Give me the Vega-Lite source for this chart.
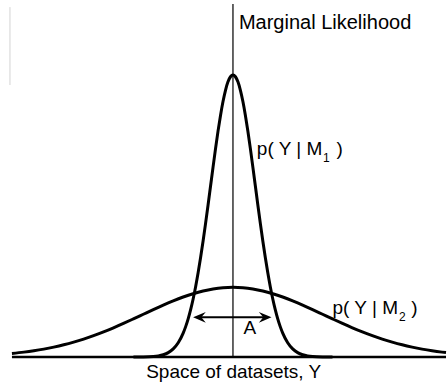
{
  "$schema": "https://vega.github.io/schema/vega-lite/v6.json",
  "width": 448,
  "height": 383,
  "padding": 0,
  "autosize": {"type": "fit", "contains": "padding"},
  "background": "white",
  "config": {"view": {"stroke": null}},
  "datasets": {
    "m1": [
      {"x": -1.0, "y": 0}, {"x": -0.9, "y": 0.0006}, {"x": -0.8, "y": 0.0032}, {"x": -0.75, "y": 0.0069},
      {"x": -0.7, "y": 0.014}, {"x": -0.65, "y": 0.0273}, {"x": -0.6, "y": 0.0507}, {"x": -0.55, "y": 0.0894},
      {"x": -0.5, "y": 0.15}, {"x": -0.475, "y": 0.191}, {"x": -0.45, "y": 0.24}, {"x": -0.425, "y": 0.298},
      {"x": -0.4, "y": 0.365}, {"x": -0.375, "y": 0.442}, {"x": -0.35, "y": 0.529}, {"x": -0.325, "y": 0.625},
      {"x": -0.3, "y": 0.729}, {"x": -0.275, "y": 0.84}, {"x": -0.25, "y": 0.956}, {"x": -0.225, "y": 1.075},
      {"x": -0.2, "y": 1.194}, {"x": -0.175, "y": 1.31}, {"x": -0.15, "y": 1.42}, {"x": -0.125, "y": 1.519},
      {"x": -0.1, "y": 1.606}, {"x": -0.075, "y": 1.677}, {"x": -0.05, "y": 1.73}, {"x": -0.025, "y": 1.762},
      {"x": 0, "y": 1.773},
      {"x": 0.025, "y": 1.762}, {"x": 0.05, "y": 1.73}, {"x": 0.075, "y": 1.677}, {"x": 0.1, "y": 1.606},
      {"x": 0.125, "y": 1.519}, {"x": 0.15, "y": 1.42}, {"x": 0.175, "y": 1.31}, {"x": 0.2, "y": 1.194},
      {"x": 0.225, "y": 1.075}, {"x": 0.25, "y": 0.956}, {"x": 0.275, "y": 0.84}, {"x": 0.3, "y": 0.729},
      {"x": 0.325, "y": 0.625}, {"x": 0.35, "y": 0.529}, {"x": 0.375, "y": 0.442}, {"x": 0.4, "y": 0.365},
      {"x": 0.425, "y": 0.298}, {"x": 0.45, "y": 0.24}, {"x": 0.475, "y": 0.191}, {"x": 0.5, "y": 0.15},
      {"x": 0.55, "y": 0.0894}, {"x": 0.6, "y": 0.0507}, {"x": 0.65, "y": 0.0273}, {"x": 0.7, "y": 0.014},
      {"x": 0.75, "y": 0.0069}, {"x": 0.8, "y": 0.0032}, {"x": 0.9, "y": 0.0006}, {"x": 1.0, "y": 0}
    ],
    "m2": [
      {"x": -2.22, "y": 0.0224}, {"x": -2.1, "y": 0.0306}, {"x": -2.0, "y": 0.0392}, {"x": -1.9, "y": 0.0496},
      {"x": -1.8, "y": 0.062}, {"x": -1.7, "y": 0.0765}, {"x": -1.6, "y": 0.0935}, {"x": -1.5, "y": 0.1127},
      {"x": -1.4, "y": 0.1342}, {"x": -1.3, "y": 0.158}, {"x": -1.2, "y": 0.1838}, {"x": -1.1, "y": 0.2111},
      {"x": -1.0, "y": 0.2397}, {"x": -0.9, "y": 0.2688}, {"x": -0.8, "y": 0.2979}, {"x": -0.7, "y": 0.3261},
      {"x": -0.6, "y": 0.3528}, {"x": -0.5, "y": 0.377}, {"x": -0.4, "y": 0.398}, {"x": -0.3, "y": 0.4152},
      {"x": -0.2, "y": 0.4279}, {"x": -0.1, "y": 0.4358}, {"x": 0, "y": 0.4384},
      {"x": 0.1, "y": 0.4358}, {"x": 0.2, "y": 0.4279}, {"x": 0.3, "y": 0.4152}, {"x": 0.4, "y": 0.398},
      {"x": 0.5, "y": 0.377}, {"x": 0.6, "y": 0.3528}, {"x": 0.7, "y": 0.3261}, {"x": 0.8, "y": 0.2979},
      {"x": 0.9, "y": 0.2688}, {"x": 1.0, "y": 0.2397}, {"x": 1.1, "y": 0.2111}, {"x": 1.2, "y": 0.1838},
      {"x": 1.3, "y": 0.158}, {"x": 1.4, "y": 0.1342}, {"x": 1.5, "y": 0.1127}, {"x": 1.6, "y": 0.0935},
      {"x": 1.7, "y": 0.0765}, {"x": 1.8, "y": 0.062}, {"x": 1.9, "y": 0.0496}, {"x": 2.0, "y": 0.0392},
      {"x": 2.1, "y": 0.0306}, {"x": 2.14, "y": 0.0276}
    ],
    "vrule": [{"x": 0, "y": 0, "y2": 2.219}],
    "faint": [{"x": -2.24, "y": 1.71, "y2": 2.2}],
    "base": [{"x": -2.22, "x2": 2.14, "y": 0}],
    "arrow": [{"x": -0.36, "x2": 0.35, "y": 0.2496}],
    "heads": [{"side": "left", "x": -0.3365, "y": 0.2496}, {"side": "right", "x": 0.3235, "y": 0.2496}],
    "title": [{"text": "Marginal Likelihood", "x": 0.06, "y": 2.062}],
    "labels": [
      {"text": "p( Y | M", "x": 0.24, "y": 1.27},
      {"text": ")", "x": 1.04, "y": 1.27},
      {"text": "p( Y | M", "x": 1.0, "y": 0.2704},
      {"text": ")", "x": 1.79, "y": 0.2704}
    ],
    "subs": [
      {"text": "1", "x": 0.905, "y": 1.226},
      {"text": "2", "x": 1.667, "y": 0.2263}
    ],
    "centered": [
      {"text": "A", "x": 0.17, "y": 0.1446},
      {"text": "Space of datasets, Y", "x": 0.007, "y": -0.134}
    ]
  },
  "layer": [
    {
      "data": {"name": "faint"},
      "mark": {"type": "rule", "color": "#d4d4d4", "strokeWidth": 1},
      "encoding": {
        "x": {"field": "x", "type": "quantitative", "scale": {"domain": [-2.34, 2.14], "nice": false, "zero": false}, "axis": null},
        "y": {"field": "y", "type": "quantitative", "scale": {"domain": [-0.1635, 2.2446], "nice": false, "zero": false}, "axis": null},
        "y2": {"field": "y2"}
      }
    },
    {
      "data": {"name": "vrule"},
      "mark": {"type": "rule", "color": "#333333", "strokeWidth": 1.5},
      "encoding": {
        "x": {"field": "x", "type": "quantitative", "scale": {"domain": [-2.34, 2.14], "nice": false, "zero": false}, "axis": null},
        "y": {"field": "y", "type": "quantitative", "scale": {"domain": [-0.1635, 2.2446], "nice": false, "zero": false}, "axis": null},
        "y2": {"field": "y2"}
      }
    },
    {
      "data": {"name": "m2"},
      "mark": {"type": "line", "color": "black", "strokeWidth": 3, "strokeJoin": "round", "interpolate": "monotone"},
      "encoding": {
        "x": {"field": "x", "type": "quantitative", "scale": {"domain": [-2.34, 2.14], "nice": false, "zero": false}, "axis": null},
        "y": {"field": "y", "type": "quantitative", "scale": {"domain": [-0.1635, 2.2446], "nice": false, "zero": false}, "axis": null}
      }
    },
    {
      "data": {"name": "m1"},
      "mark": {"type": "line", "color": "black", "strokeWidth": 3, "strokeJoin": "round", "interpolate": "monotone"},
      "encoding": {
        "x": {"field": "x", "type": "quantitative", "scale": {"domain": [-2.34, 2.14], "nice": false, "zero": false}, "axis": null},
        "y": {"field": "y", "type": "quantitative", "scale": {"domain": [-0.1635, 2.2446], "nice": false, "zero": false}, "axis": null}
      }
    },
    {
      "data": {"name": "base"},
      "mark": {"type": "rule", "color": "black", "strokeWidth": 2.5},
      "encoding": {
        "x": {"field": "x", "type": "quantitative", "scale": {"domain": [-2.34, 2.14], "nice": false, "zero": false}, "axis": null},
        "x2": {"field": "x2"},
        "y": {"field": "y", "type": "quantitative", "scale": {"domain": [-0.1635, 2.2446], "nice": false, "zero": false}, "axis": null}
      }
    },
    {
      "data": {"name": "arrow"},
      "mark": {"type": "rule", "color": "black", "strokeWidth": 2},
      "encoding": {
        "x": {"field": "x", "type": "quantitative", "scale": {"domain": [-2.34, 2.14], "nice": false, "zero": false}, "axis": null},
        "x2": {"field": "x2"},
        "y": {"field": "y", "type": "quantitative", "scale": {"domain": [-0.1635, 2.2446], "nice": false, "zero": false}, "axis": null}
      }
    },
    {
      "data": {"name": "heads"},
      "transform": [{"filter": "datum.side === 'left'"}],
      "mark": {"type": "point", "shape": "M-1,0 L1,-0.85 L0.3,0 L1,0.85 Z", "filled": true, "color": "black", "size": 161, "opacity": 1},
      "encoding": {
        "x": {"field": "x", "type": "quantitative", "scale": {"domain": [-2.34, 2.14], "nice": false, "zero": false}, "axis": null},
        "y": {"field": "y", "type": "quantitative", "scale": {"domain": [-0.1635, 2.2446], "nice": false, "zero": false}, "axis": null}
      }
    },
    {
      "data": {"name": "heads"},
      "transform": [{"filter": "datum.side === 'right'"}],
      "mark": {"type": "point", "shape": "M1,0 L-1,-0.85 L-0.3,0 L-1,0.85 Z", "filled": true, "color": "black", "size": 161, "opacity": 1},
      "encoding": {
        "x": {"field": "x", "type": "quantitative", "scale": {"domain": [-2.34, 2.14], "nice": false, "zero": false}, "axis": null},
        "y": {"field": "y", "type": "quantitative", "scale": {"domain": [-0.1635, 2.2446], "nice": false, "zero": false}, "axis": null}
      }
    },
    {
      "data": {"name": "title"},
      "mark": {"type": "text", "align": "left", "baseline": "alphabetic", "font": "Liberation Sans", "fontSize": 20, "color": "black"},
      "encoding": {
        "x": {"field": "x", "type": "quantitative", "scale": {"domain": [-2.34, 2.14], "nice": false, "zero": false}, "axis": null},
        "y": {"field": "y", "type": "quantitative", "scale": {"domain": [-0.1635, 2.2446], "nice": false, "zero": false}, "axis": null},
        "text": {"field": "text"}
      }
    },
    {
      "data": {"name": "labels"},
      "mark": {"type": "text", "align": "left", "baseline": "alphabetic", "font": "Liberation Sans", "fontSize": 19, "color": "black"},
      "encoding": {
        "x": {"field": "x", "type": "quantitative", "scale": {"domain": [-2.34, 2.14], "nice": false, "zero": false}, "axis": null},
        "y": {"field": "y", "type": "quantitative", "scale": {"domain": [-0.1635, 2.2446], "nice": false, "zero": false}, "axis": null},
        "text": {"field": "text"}
      }
    },
    {
      "data": {"name": "subs"},
      "mark": {"type": "text", "align": "left", "baseline": "alphabetic", "font": "Liberation Sans", "fontSize": 12, "color": "black"},
      "encoding": {
        "x": {"field": "x", "type": "quantitative", "scale": {"domain": [-2.34, 2.14], "nice": false, "zero": false}, "axis": null},
        "y": {"field": "y", "type": "quantitative", "scale": {"domain": [-0.1635, 2.2446], "nice": false, "zero": false}, "axis": null},
        "text": {"field": "text"}
      }
    },
    {
      "data": {"name": "centered"},
      "mark": {"type": "text", "align": "center", "baseline": "alphabetic", "font": "Liberation Sans", "fontSize": 19, "color": "black"},
      "encoding": {
        "x": {"field": "x", "type": "quantitative", "scale": {"domain": [-2.34, 2.14], "nice": false, "zero": false}, "axis": null},
        "y": {"field": "y", "type": "quantitative", "scale": {"domain": [-0.1635, 2.2446], "nice": false, "zero": false}, "axis": null},
        "text": {"field": "text"}
      }
    }
  ]
}
